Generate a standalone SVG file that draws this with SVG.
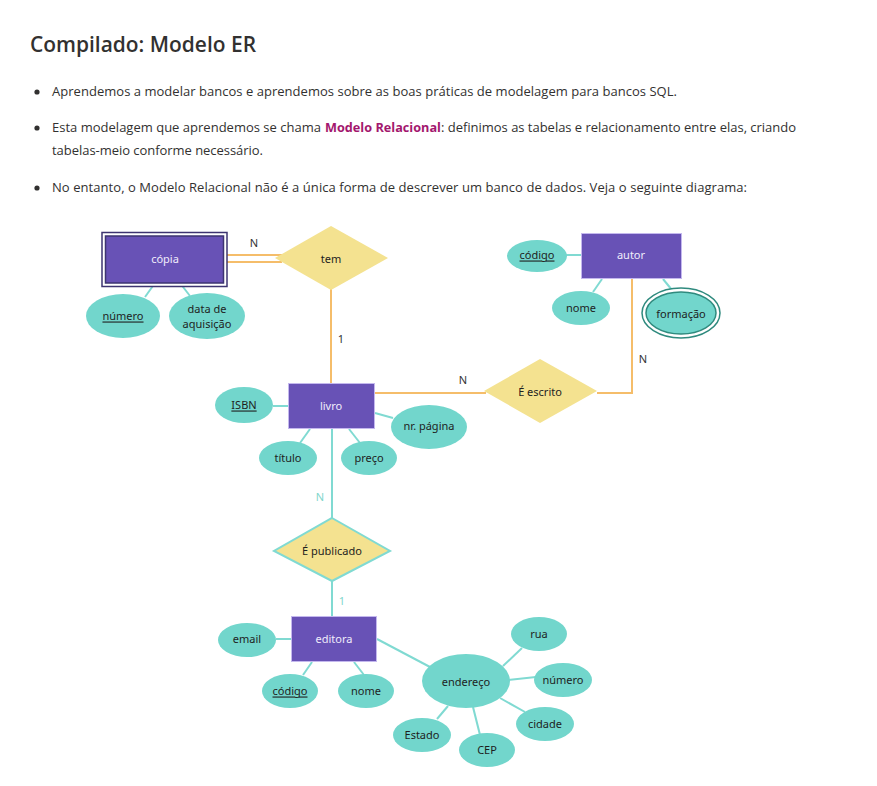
<svg xmlns="http://www.w3.org/2000/svg" width="877" height="786" viewBox="0 0 877 786">
<style>
.page{font-family:"Open Sans","Noto Sans",sans-serif;font-size:13px;fill:#323130}
.title{font-family:"Open Sans","Noto Sans",sans-serif;font-size:22px;font-weight:600;fill:#323130}
.hl{font-weight:700;fill:#a3176e}
.ent rect.f{fill:#6852b6;stroke:#c4b8ee;stroke-width:1}
.ent text{fill:#f0ecfb}
.att ellipse{fill:#72d6cc}
.rel polygon{fill:#f4e290}
.lbl{font-family:"Noto Sans","Open Sans",sans-serif;font-size:11px;fill:#1e1e1e;text-anchor:middle;dominant-baseline:central}
.card{font-family:"Noto Sans","Open Sans",sans-serif;font-size:11px;fill:#333;text-anchor:middle;dominant-baseline:central}
.o{stroke:#f5bd6a;stroke-width:2;fill:none}
.t{stroke:#80dad2;stroke-width:2;fill:none}
</style>
<rect width="877" height="786" fill="#ffffff"/>
<text class="title" x="30" y="52" textLength="226" lengthAdjust="spacingAndGlyphs">Compilado: Modelo ER</text>
<g id="bullets">
<circle cx="37" cy="92" r="2.6" fill="#323130"/>
<circle cx="37" cy="128" r="2.6" fill="#323130"/>
<circle cx="37" cy="188" r="2.6" fill="#323130"/>
<text class="page" x="52" y="96" textLength="625" lengthAdjust="spacing">Aprendemos a modelar bancos e aprendemos sobre as boas práticas de modelagem para bancos SQL.</text>
<text class="page" x="52" y="132" textLength="269" lengthAdjust="spacing">Esta modelagem que aprendemos se chama</text>
<text class="page hl" x="325" y="132" textLength="116" lengthAdjust="spacingAndGlyphs">Modelo Relacional</text>
<text class="page" x="441" y="132" textLength="355" lengthAdjust="spacing">: definimos as tabelas e relacionamento entre elas, criando</text>
<text class="page" x="52" y="155" textLength="211" lengthAdjust="spacing">tabelas-meio conforme necessário.</text>
<text class="page" x="52" y="192" textLength="695" lengthAdjust="spacing">No entanto, o Modelo Relacional não é a única forma de descrever um banco de dados. Veja o seguinte diagrama:</text>
</g>
<g id="connectors">
<line class="o" x1="227" y1="255" x2="282" y2="255"/>
<line class="o" x1="227" y1="262" x2="282" y2="262"/>
<line class="o" x1="331" y1="289" x2="331" y2="383"/>
<line class="o" x1="375" y1="393" x2="486" y2="393"/>
<polyline class="o" points="597,393 632,393 632,279"/>
<line class="t" x1="155" y1="283" x2="145" y2="297"/>
<line class="t" x1="180" y1="283" x2="190" y2="296"/>
<line class="t" x1="566" y1="255" x2="582" y2="255"/>
<line class="t" x1="602" y1="279" x2="593" y2="292"/>
<line class="t" x1="663" y1="279" x2="672" y2="290"/>
<line class="t" x1="273" y1="406" x2="288" y2="406"/>
<line class="t" x1="310" y1="429" x2="300" y2="443"/>
<line class="t" x1="349" y1="429" x2="360" y2="443"/>
<line class="t" x1="375" y1="413" x2="393" y2="418"/>
<line class="t" x1="332" y1="429" x2="332" y2="518"/>
<line class="t" x1="332" y1="581" x2="332" y2="616"/>
<line class="t" x1="276" y1="639" x2="291" y2="639"/>
<line class="t" x1="312" y1="662" x2="303" y2="675"/>
<line class="t" x1="354" y1="662" x2="364" y2="675"/>
<line class="t" x1="377" y1="639" x2="430" y2="667"/>
<line class="t" x1="503" y1="666" x2="522" y2="648"/>
<line class="t" x1="508" y1="680" x2="536" y2="677"/>
<line class="t" x1="500" y1="698" x2="525" y2="712"/>
<line class="t" x1="473" y1="707" x2="480" y2="735"/>
<line class="t" x1="448" y1="706" x2="437" y2="719"/>
<text class="card" x="254" y="242">N</text>
<text class="card" x="341" y="338">1</text>
<text class="card" x="463" y="379">N</text>
<text class="card" x="643" y="358">N</text>
<text class="card" x="320" y="496" style="fill:#7fd6cc">N</text>
<text class="card" x="342" y="600" style="fill:#7fd6cc">1</text>
</g>
<g id="copia" class="ent">
<rect x="102" y="232.5" width="125" height="54" fill="#ffffff" stroke="#3d3470" stroke-width="1.5"/>
<rect x="105.5" y="236" width="118" height="47" fill="#6852b6" stroke="#3d3470" stroke-width="1.5"/>
<text class="lbl" x="165" y="258" style="fill:#f0ecfb">cópia</text>
</g>
<g id="tem" class="rel">
<polygon points="331,226 388,258 331,290 275,258"/>
<text class="lbl" x="331" y="258">tem</text>
</g>
<g id="copia-numero" class="att">
<ellipse cx="123" cy="316" rx="37" ry="22"/>
<text class="lbl" x="123" y="315" text-decoration="underline">número</text>
</g>
<g id="copia-data" class="att">
<ellipse cx="207" cy="316" rx="38" ry="23"/>
<text class="lbl" x="207" y="308">data de</text>
<text class="lbl" x="207" y="323">aquisição</text>
</g>
<g id="autor" class="ent">
<rect class="f" x="581.5" y="233.5" width="100" height="45"/>
<text class="lbl" x="631" y="254">autor</text>
</g>
<g id="autor-codigo" class="att">
<ellipse cx="537" cy="256" rx="30" ry="16"/>
<text class="lbl" x="537" y="254" text-decoration="underline">código</text>
</g>
<g id="autor-nome" class="att">
<ellipse cx="581" cy="308" rx="29" ry="17"/>
<text class="lbl" x="581" y="307">nome</text>
</g>
<g id="autor-formacao" class="att">
<ellipse cx="681" cy="313" rx="39" ry="25" style="fill:#ffffff;stroke:#2f8a7e;stroke-width:1.5"/>
<ellipse cx="681" cy="313" rx="35" ry="21" style="stroke:#2f8a7e;stroke-width:1.5"/>
<text class="lbl" x="681" y="313">formação</text>
</g>
<g id="escrito" class="rel">
<polygon points="540,359 597,391 540,423 484,391"/>
<text class="lbl" x="540" y="391">É escrito</text>
</g>
<g id="livro" class="ent">
<rect class="f" x="288.5" y="383.5" width="86" height="45"/>
<text class="lbl" x="331" y="405">livro</text>
</g>
<g id="livro-isbn" class="att">
<ellipse cx="244" cy="405" rx="29" ry="18"/>
<text class="lbl" x="244" y="404" text-decoration="underline">ISBN</text>
</g>
<g id="livro-titulo" class="att">
<ellipse cx="288" cy="458" rx="29" ry="17"/>
<text class="lbl" x="288" y="457">título</text>
</g>
<g id="livro-preco" class="att">
<ellipse cx="369" cy="458" rx="28" ry="17"/>
<text class="lbl" x="369" y="457">preço</text>
</g>
<g id="livro-pagina" class="att">
<ellipse cx="429" cy="427" rx="38" ry="22"/>
<text class="lbl" x="429" y="425">nr. página</text>
</g>
<g id="publicado" class="rel">
<polygon points="332,518 390,551 332,581 274,551" style="stroke:#80dad2;stroke-width:2"/>
<text class="lbl" x="332" y="550">É publicado</text>
</g>
<g id="editora" class="ent">
<rect class="f" x="291.5" y="616.5" width="85" height="45"/>
<text class="lbl" x="334" y="638">editora</text>
</g>
<g id="editora-email" class="att">
<ellipse cx="247" cy="640" rx="29" ry="17"/>
<text class="lbl" x="247" y="638">email</text>
</g>
<g id="editora-codigo" class="att">
<ellipse cx="290" cy="691" rx="28" ry="17"/>
<text class="lbl" x="290" y="690" text-decoration="underline">código</text>
</g>
<g id="editora-nome" class="att">
<ellipse cx="366" cy="691" rx="28" ry="17"/>
<text class="lbl" x="366" y="690">nome</text>
</g>
<g id="endereco" class="att">
<ellipse cx="466" cy="681" rx="44" ry="27"/>
<text class="lbl" x="466" y="681">endereço</text>
</g>
<g id="rua" class="att">
<ellipse cx="539" cy="634" rx="28" ry="17"/>
<text class="lbl" x="539" y="633">rua</text>
</g>
<g id="end-numero" class="att">
<ellipse cx="563" cy="680" rx="29" ry="17"/>
<text class="lbl" x="563" y="679">número</text>
</g>
<g id="cidade" class="att">
<ellipse cx="545" cy="724" rx="29" ry="17"/>
<text class="lbl" x="545" y="723">cidade</text>
</g>
<g id="cep" class="att">
<ellipse cx="487" cy="750" rx="28" ry="17"/>
<text class="lbl" x="487" y="749">CEP</text>
</g>
<g id="estado" class="att">
<ellipse cx="422" cy="735" rx="29" ry="17"/>
<text class="lbl" x="422" y="734">Estado</text>
</g>
</svg>
